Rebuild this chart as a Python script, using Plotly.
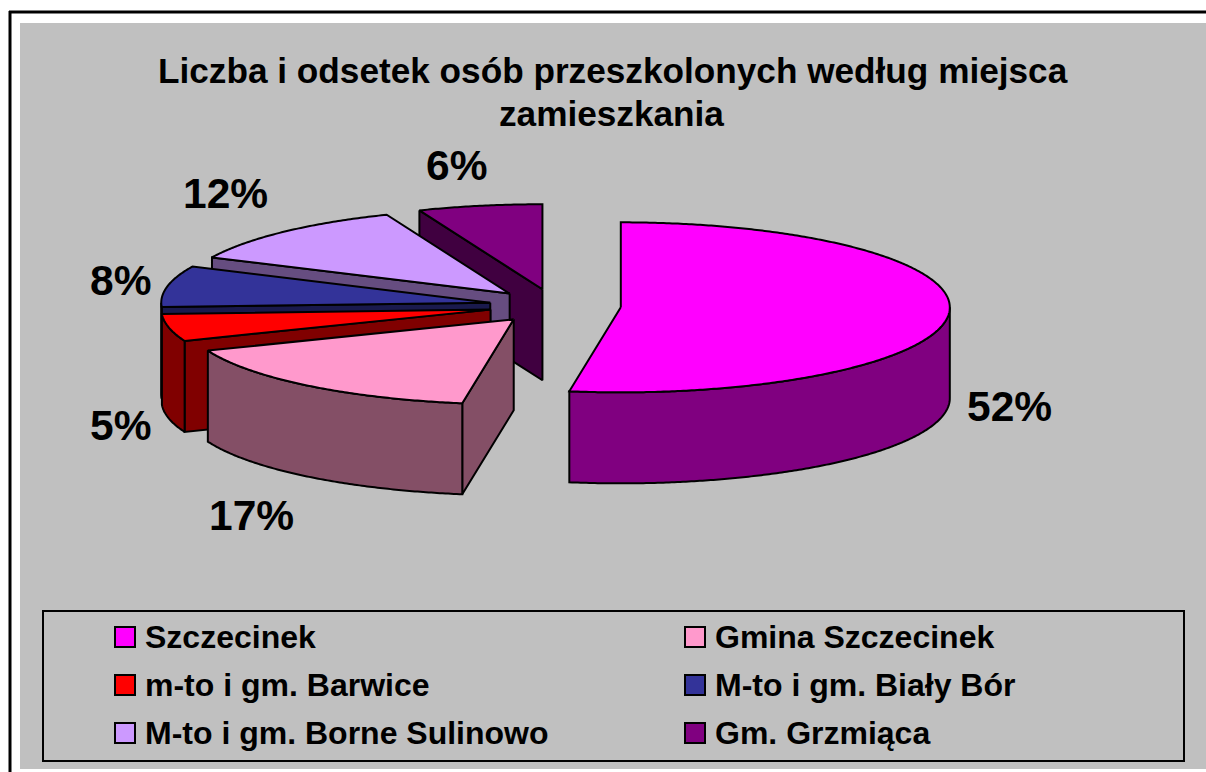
import numpy as np
import plotly.graph_objects as go

# ---------- data ----------
categories = ["Szczecinek", "Gmina Szczecinek", "m-to i gm. Barwice",
              "M-to i gm. Biały Bór", "M-to i gm. Borne Sulinowo", "Gm. Grzmiąca"]
values = [52.5, 16.5, 5.2, 7.8, 11.9, 6.1]
percent_labels = ["52%", "17%", "5%", "8%", "12%", "6%"]
top_colors = ["#FF00FF", "#FF99CC", "#FF0000", "#333399", "#CC99FF", "#800080"]
side_colors = ["#800080", "#844F66", "#800000", "#1A1A4D", "#664D80", "#400040"]
title_lines = ["Liczba i odsetek osób przeszkolonych według miejsca", "zamieszkania"]

# ---------- layout constants (page pixels) ----------
W, H = 1206, 772
CX, CY, RX, RY, DEPTH, PULL = 555, 306, 329, 85, 91, 66
label_pos = [(1009, 406), (251, 515), (120, 425), (120, 280), (225, 193), (456, 165)]
title_pos = [(613, 70), (611, 113)]
legend_cols = [125, 695]
legend_rows = [637, 685, 733]
FONT = "Liberation Sans, Arial, sans-serif"
LINE = dict(color="black", width=2)

fig = go.Figure()


def poly(xs, ys, fill, name):
    fig.add_trace(go.Scatter(x=list(xs) + [xs[0]], y=list(ys) + [ys[0]], mode="lines",
                             fill="toself", fillcolor=fill, line=dict(color="black", width=2, simplify=False),
                             hoverinfo="text", text=name, showlegend=False))


def arc(a0, a1, ax, ay):
    t = np.radians(np.linspace(a0, a1, max(2, int(abs(a1 - a0) * 2) + 2)))
    return ax + RX * np.sin(t), ay - RY * np.cos(t)


# slice angles from values (clockwise from 12 o'clock)
total = sum(values)
edges = np.concatenate([[0], np.cumsum(values)]) / total * 360
slices = []
for i, name in enumerate(categories):
    a0, a1 = edges[i], edges[i + 1]
    m = np.radians((a0 + a1) / 2)
    ax, ay = CX + PULL * np.sin(m), CY - PULL * RY / RX * np.cos(m)
    slices.append((i, name, a0, a1, ax, ay))

# painter's order: back slices first
for i, name, a0, a1, ax, ay in reversed(slices):
    # radial walls that face the viewer
    walls = []
    if 180 < a0 < 360:
        walls.append(a0)
    if 0 < a1 < 180:
        walls.append(a1)
    for a in walls:
        ex, ey = arc(a, a, ax, ay)
        poly([ax, ex[0], ex[0], ax], [ay, ey[0], ey[0] + DEPTH, ay + DEPTH], side_colors[i], name)
    # outer wall (front half only)
    f0, f1 = max(a0, 90), min(a1, 270)
    if f1 > f0:
        x, y = arc(f0, f1, ax, ay)
        poly(np.concatenate([x, x[::-1]]), np.concatenate([y, y[::-1] + DEPTH]), side_colors[i], name)
    # top face
    x, y = arc(a0, a1, ax, ay)
    poly(np.concatenate([[ax], x]), np.concatenate([[ay], y]), top_colors[i], name)

# legend swatches
legend_xy = [(c, r) for r in legend_rows for c in legend_cols]
fig.add_trace(go.Scatter(x=[p[0] for p in legend_xy], y=[p[1] for p in legend_xy], mode="markers",
                         marker=dict(symbol="square", size=20, color=top_colors, line=LINE),
                         hoverinfo="skip", showlegend=False))

annotations = []
for t, (x, y) in zip(percent_labels, label_pos):
    annotations.append(dict(x=x, y=y, text="<b>%s</b>" % t, showarrow=False, xanchor="center", yanchor="middle",
                            font=dict(family=FONT, size=42.5, color="black")))
for t, (x, y) in zip(title_lines, title_pos):
    annotations.append(dict(x=x, y=y, text="<b>%s</b>" % t, showarrow=False, xanchor="center",
                            yanchor="middle", font=dict(family=FONT, size=35.2, color="black")))
for t, (x, y) in zip(categories, legend_xy):
    annotations.append(dict(x=x + 18, y=y, text="<b>%s</b>" % t, showarrow=False, xanchor="left",
                            yanchor="middle", font=dict(family=FONT, size=32, color="black")))

shapes = [
    dict(type="rect", x0=20, x1=1206, y0=23, y1=769, fillcolor="#C0C0C0", line_width=0, layer="below"),
    dict(type="line", x0=9, x1=1206, y0=12, y1=12, line=dict(color="black", width=3), layer="below"),
    dict(type="line", x0=10, x1=10, y0=11, y1=772, line=dict(color="black", width=3), layer="below"),
    dict(type="rect", x0=43, x1=1184, y0=611, y1=761, fillcolor="#C0C0C0", line=LINE, layer="below"),
]

fig.update_layout(
    width=W, height=H, autosize=False, margin=dict(l=0, r=0, t=0, b=0),
    paper_bgcolor="white", plot_bgcolor="white", showlegend=False,
    xaxis=dict(range=[0, W], visible=False, fixedrange=True),
    yaxis=dict(range=[H, 0], visible=False, fixedrange=True),
    shapes=shapes, annotations=annotations,
)
fig.write_html("out.html", config=dict(displayModeBar=False),
               post_script="document.body.style.margin='0';document.body.style.overflow='hidden';")
